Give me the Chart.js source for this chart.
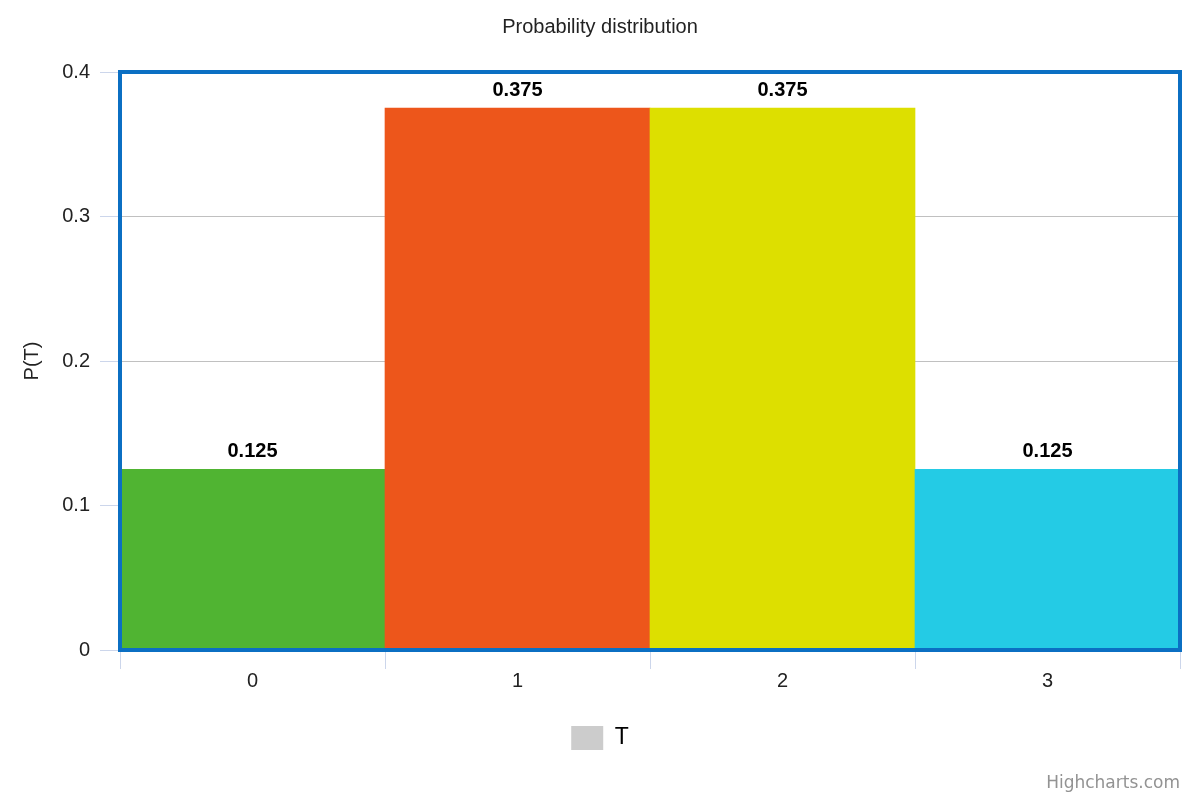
<!DOCTYPE html>
<html>
<head>
<meta charset="utf-8">
<title>Probability distribution</title>
<script src="https://cdn.jsdelivr.net/npm/chart.js@4"></script>
<style>
    html, body { margin: 0; padding: 0; background: #fff; }
    #wrap { width: 1200px; height: 800px; }
</style>
</head>
<body>
<div id="wrap"><canvas id="probChart" width="1200" height="800"></canvas></div>
<script>
// chart data
const categories = ['0', '1', '2', '3'];
const probabilities = [0.125, 0.375, 0.375, 0.125];
const barColors = ['#50B432', '#ED561B', '#DDDF00', '#24CBE5'];
const seriesName = 'T';
const yTicks = [0, 0.1, 0.2, 0.3, 0.4];

const FONT = '"Liberation Sans", Arial, sans-serif';

// blue frame around the plot area
const plotBorder = {
    id: 'plotBorder',
    afterDraw(chart) {
        const { ctx, chartArea: a } = chart;
        ctx.save();
        ctx.strokeStyle = '#0b6fc3';
        ctx.lineWidth = 4;
        ctx.strokeRect(a.left, a.top, a.right - a.left, a.bottom - a.top);
        ctx.restore();
    }
};

// value labels over each bar
const barLabels = {
    id: 'barLabels',
    afterDraw(chart) {
        const { ctx } = chart;
        const meta = chart.getDatasetMeta(0);
        ctx.save();
        ctx.font = 'bold 20px ' + FONT;
        ctx.fillStyle = '#000';
        ctx.textAlign = 'center';
        ctx.textBaseline = 'middle';
        meta.data.forEach((bar, i) => {
            ctx.fillText(String(probabilities[i]), bar.x, bar.y - 18);
        });
        ctx.restore();
    }
};

// credits text, bottom right
const credits = {
    id: 'credits',
    afterDraw(chart) {
        const { ctx } = chart;
        ctx.save();
        ctx.font = '17px "DejaVu Sans", sans-serif';
        ctx.fillStyle = '#939393';
        ctx.textAlign = 'right';
        ctx.textBaseline = 'alphabetic';
        ctx.fillText('Highcharts.com', 1180, 788);
        ctx.restore();
    }
};

new Chart(document.getElementById('probChart'), {
    type: 'bar',
    data: {
        labels: categories,
        datasets: [{
            label: seriesName,
            data: probabilities,
            backgroundColor: barColors,
            borderWidth: 0,
            barPercentage: 1,
            categoryPercentage: 1
        }]
    },
    options: {
        responsive: false,
        animation: false,
        layout: { padding: { left: 0, right: 0, top: 0, bottom: 40 } },
        plugins: {
            title: {
                display: true,
                text: 'Probability distribution',
                color: '#222',
                font: { family: FONT, size: 20, weight: 'normal', lineHeight: 1.2 },
                padding: { top: 15, bottom: 33 }
            },
            legend: {
                position: 'bottom',
                labels: {
                    font: { family: FONT, size: 23 },
                    color: '#333',
                    boxWidth: 32,
                    boxHeight: 24,
                    padding: 10,
                    generateLabels: () => [{
                        text: seriesName,
                        fillStyle: '#cccccc',
                        strokeStyle: '#cccccc',
                        lineWidth: 0,
                        datasetIndex: 0
                    }]
                }
            },
            tooltip: { enabled: false }
        },
        scales: {
            x: {
                offset: true,
                grid: {
                    offset: true,
                    drawOnChartArea: false,
                    drawTicks: true,
                    tickLength: 19,
                    color: '#ccd6eb',
                    tickColor: '#ccd6eb'
                },
                border: { display: false },
                ticks: {
                    color: '#222',
                    padding: 0,
                    font: { family: FONT, size: 20 }
                },
                afterFit(scale) { scale.height = 66; }
            },
            y: {
                min: 0,
                max: 0.4,
                afterBuildTicks(scale) { scale.ticks = yTicks.map(v => ({ value: v })); },
                grid: {
                    color: '#c0c0c0',
                    tickColor: '#ccd6eb',
                    tickLength: 20
                },
                border: { display: false },
                ticks: {
                    color: '#222',
                    padding: 10,
                    font: { family: FONT, size: 20 },
                    callback: v => String(v)
                },
                title: {
                    display: true,
                    text: 'P(T)',
                    color: '#222',
                    font: { family: FONT, size: 20 },
                    padding: { top: 20, bottom: 0 }
                },
                afterFit(scale) { scale.width = 120; }
            },
            // empty right-hand spacer so the title and legend stay centred on the page
            yRight: {
                position: 'right',
                display: true,
                grid: { display: false, drawTicks: false },
                border: { display: false },
                ticks: { display: false },
                afterFit(scale) { scale.width = 20; }
            }
        }
    },
    plugins: [plotBorder, barLabels, credits]
});
</script>
</body>
</html>
